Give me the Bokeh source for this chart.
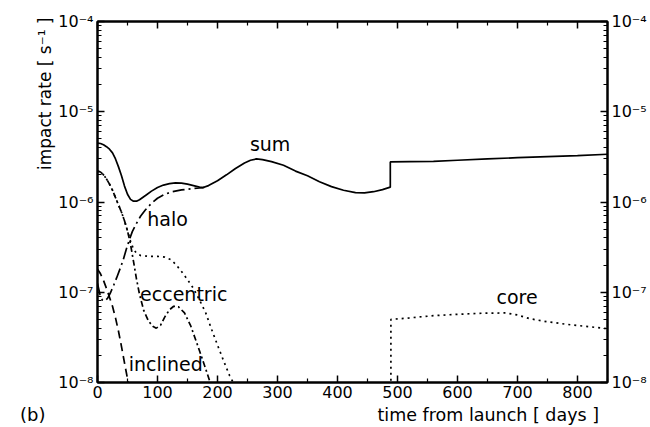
import math
from bokeh.plotting import figure
from bokeh.layouts import column
from bokeh.models import (Range1d, LinearAxis, LogAxis, FixedTicker, CustomJSTickFormatter,
                          Label, Title)
from bokeh.embed import file_html
from bokeh.resources import INLINE

# ---------------- data ----------------
x_ticks = [0, 100, 200, 300, 400, 500, 600, 700, 800]
x_minor = [50, 150, 250, 350, 450, 550, 650, 750, 850]
y_ticks = [1e-8, 1e-7, 1e-6, 1e-5, 1e-4]
y_tick_labels = ["10⁻⁸", "10⁻⁷", "10⁻⁶", "10⁻⁵", "10⁻⁴"]
y_minor = [m * 10.0 ** e for e in range(-8, -4) for m in range(2, 10)]

sum_days = [0, 5, 10, 15, 20, 25, 30, 35, 40, 45, 50, 55, 60, 65, 70, 80, 90, 100, 110, 120,
            130, 140, 150, 160, 170, 175, 185, 200, 215, 230, 245, 255, 265, 275, 290, 310,
            330, 350, 370, 390, 410, 430, 445, 460, 475, 488, 488, 520, 560, 600, 650, 700,
            750, 800, 850]
sum_rate = [4.5e-6, 4.45e-6, 4.3e-6, 4.1e-6, 3.85e-6, 3.5e-6, 3.0e-6, 2.45e-6, 1.95e-6, 1.5e-6,
            1.22e-6, 1.07e-6, 1.02e-6, 1.02e-6, 1.06e-6, 1.18e-6, 1.32e-6, 1.45e-6, 1.54e-6,
            1.6e-6, 1.63e-6, 1.62e-6, 1.58e-6, 1.52e-6, 1.46e-6, 1.44e-6, 1.52e-6, 1.72e-6,
            2.0e-6, 2.35e-6, 2.7e-6, 2.9e-6, 3.0e-6, 2.95e-6, 2.8e-6, 2.55e-6, 2.2e-6, 1.95e-6,
            1.68e-6, 1.48e-6, 1.35e-6, 1.27e-6, 1.26e-6, 1.3e-6, 1.37e-6, 1.46e-6, 2.78e-6,
            2.8e-6, 2.82e-6, 2.9e-6, 3.0e-6, 3.1e-6, 3.18e-6, 3.27e-6, 3.38e-6]

halo_days = [0, 4, 8, 12, 17, 22, 27, 32, 38, 43, 48, 53, 58, 65, 72, 80, 90, 100, 112, 125,
             140, 155, 170, 178]
halo_rate = [1.25e-7, 9.5e-8, 8.2e-8, 8.0e-8, 8.6e-8, 1.0e-7, 1.2e-7, 1.45e-7, 1.85e-7, 2.3e-7,
             3.0e-7, 3.8e-7, 4.7e-7, 5.8e-7, 7.0e-7, 8.2e-7, 9.7e-7, 1.1e-6, 1.22e-6, 1.3e-6,
             1.36e-6, 1.4e-6, 1.43e-6, 1.45e-6]

ecc_days = [0, 5, 10, 15, 20, 25, 30, 35, 40, 45, 50, 55, 60, 65, 70, 77, 85, 92, 98, 105,
            112, 120, 127, 135, 145, 155, 165, 175, 183, 190]
ecc_rate = [2.2e-6, 2.15e-6, 2.0e-6, 1.8e-6, 1.58e-6, 1.35e-6, 1.12e-6, 9.3e-7, 7.7e-7, 6.2e-7,
            4.8e-7, 3.4e-7, 2.2e-7, 1.4e-7, 9.5e-8, 6.3e-8, 4.8e-8, 4.2e-8, 4.0e-8, 4.3e-8,
            5.3e-8, 6.4e-8, 7.0e-8, 6.9e-8, 5.9e-8, 4.3e-8, 2.8e-8, 1.8e-8, 1.25e-8, 9e-9]

incl_days = [0, 5, 10, 15, 20, 25, 30, 35, 40, 45, 50, 53]
incl_rate = [1.8e-7, 1.6e-7, 1.35e-7, 1.1e-7, 8.8e-8, 7e-8, 5.2e-8, 3.7e-8, 2.5e-8, 1.65e-8,
             1.1e-8, 9e-9]

dot_days = [0, 5, 10, 15, 20, 25, 30, 35, 40, 45, 50, 55, 60, 65, 72, 85, 100, 112, 122, 130,
            140, 150, 160, 170, 180, 190, 200, 210, 220, 228]
dot_rate = [2.2e-6, 2.15e-6, 2.0e-6, 1.8e-6, 1.58e-6, 1.35e-6, 1.12e-6, 9.3e-7, 7.7e-7, 6.2e-7,
            4.8e-7, 3.7e-7, 3.0e-7, 2.7e-7, 2.55e-7, 2.5e-7, 2.5e-7, 2.45e-7, 2.3e-7, 2.05e-7,
            1.7e-7, 1.38e-7, 1.1e-7, 8.2e-8, 6.0e-8, 3.9e-8, 2.6e-8, 1.75e-8, 1.2e-8, 9.5e-9]

core_days = [489, 489, 520, 560, 600, 640, 680, 700, 720, 750, 790, 820, 850]
core_rate = [9e-9, 5.0e-8, 5.2e-8, 5.5e-8, 5.7e-8, 5.85e-8, 5.9e-8, 5.6e-8, 5.1e-8, 4.7e-8,
             4.35e-8, 4.15e-8, 3.95e-8]

panel_tag = "(b)"
x_title = "time from launch [ days ]"
y_title = "impact rate [ s⁻¹ ]"

FONT = "DejaVu Sans"
MAIN_H = 403
STRIP_H = 427 - MAIN_H

# ---------------- main figure ----------------
p = figure(width=650, height=MAIN_H, output_backend="svg", toolbar_location=None,
           x_range=Range1d(0, 850), y_range=Range1d(1e-8, 1e-4), y_axis_type="log",
           min_border_left=97, min_border_right=43, min_border_top=21, min_border_bottom=21,
           background_fill_color="white", border_fill_color="white")
p.grid.visible = False
p.outline_line_color = "black"
p.outline_line_width = 2

ytick_fmt = CustomJSTickFormatter(args=dict(tv=y_ticks, tl=y_tick_labels), code="""
let best = 0, bd = 1e9;
for (let i = 0; i < tv.length; i++) {
  const d = Math.abs(Math.log10(tv[i]) - Math.log10(tick));
  if (d < bd) { bd = d; best = i; }
}
return tl[best];
""")
blank_fmt = CustomJSTickFormatter(code="return '';")

def style_axis(ax):
    ax.axis_line_color = "black"
    ax.axis_line_width = 2
    ax.major_tick_line_color = "black"
    ax.minor_tick_line_color = "black"
    ax.major_tick_line_width = 1.5
    ax.minor_tick_line_width = 1.2
    ax.major_tick_in = 7
    ax.major_tick_out = 0
    ax.minor_tick_in = 4
    ax.minor_tick_out = 0
    ax.major_label_text_font = FONT
    ax.major_label_text_color = "black"
    ax.major_label_text_font_size = "16px"

xb = p.xaxis[0]
xb.ticker = FixedTicker(ticks=x_ticks, minor_ticks=x_minor)
style_axis(xb)
xb.major_label_standoff = 3

yl = p.yaxis[0]
yl.ticker = FixedTicker(ticks=y_ticks, minor_ticks=y_minor)
yl.formatter = ytick_fmt
style_axis(yl)
yl.major_label_standoff = 4

xt = LinearAxis(ticker=FixedTicker(ticks=x_ticks, minor_ticks=x_minor), formatter=blank_fmt)
style_axis(xt)
p.add_layout(xt, "above")

yr = LogAxis(ticker=FixedTicker(ticks=y_ticks, minor_ticks=y_minor), formatter=ytick_fmt)
style_axis(yr)
yr.major_label_standoff = 4
p.add_layout(yr, "right")

# y-axis title, aligned toward the top of the left side
p.add_layout(Title(text=y_title, align="right", text_font=FONT,
                   text_font_size="17px", text_font_style="normal", text_color="black",
                   standoff=2, offset=-4), "left")

# ---------------- curves ----------------
LW = 1.7
p.line(sum_days, sum_rate, line_color="black", line_width=LW)
p.line(halo_days, halo_rate, line_color="black", line_width=LW, line_dash="12 4 2 4")
p.line(ecc_days, ecc_rate, line_color="black", line_width=LW, line_dash="6 3 2 3")
p.line(incl_days, incl_rate, line_color="black", line_width=LW, line_dash="8 5")
p.line(dot_days, dot_rate, line_color="black", line_width=LW, line_dash="2 4")
p.line(core_days, core_rate, line_color="black", line_width=LW, line_dash="2 4")

# ---------------- curve labels ----------------
def lab(x, y, t, size="19px", **kw):
    return Label(x=x, y=y, text=t, text_font=FONT, text_font_size=size,
                 text_color="black", **kw)

p.add_layout(lab(254, 4.4e-6, "sum", text_baseline="alphabetic"))
p.add_layout(lab(83, 6.4e-7, "halo", text_baseline="alphabetic"))
p.add_layout(lab(71, 9.5e-8, "eccentric", text_baseline="alphabetic"))
p.add_layout(lab(52, 1.6e-8, "inclined", text_baseline="alphabetic"))
p.add_layout(lab(665, 8.8e-8, "core", text_baseline="alphabetic"))

# ---------------- bottom strip: panel tag and x-axis title ----------------
# strip frame is aligned with the main frame (97..607 px); its x range is in pixels
s = figure(width=650, height=STRIP_H, output_backend="svg", toolbar_location=None,
           x_range=Range1d(97, 607), y_range=Range1d(0, STRIP_H),
           x_axis_location=None,
           min_border_left=97, min_border_right=43, min_border_top=0, min_border_bottom=0,
           background_fill_color="white", border_fill_color="white")
s.grid.visible = False
s.outline_line_color = None

tag_axis = s.yaxis[0]
tag_axis.ticker = FixedTicker(ticks=[STRIP_H - 10], minor_ticks=[])
tag_axis.formatter = CustomJSTickFormatter(args=dict(t=panel_tag), code="return t;")
tag_axis.axis_line_color = None
tag_axis.major_tick_line_color = None
tag_axis.minor_tick_line_color = None
tag_axis.major_tick_out = 0
tag_axis.major_tick_in = 0
tag_axis.major_label_standoff = 52
tag_axis.major_label_text_font = FONT
tag_axis.major_label_text_font_size = "18px"
tag_axis.major_label_text_color = "black"

s.add_layout(lab(377, STRIP_H - 1, x_title, size="17.5px", text_baseline="top"))

layout = column(p, s, spacing=0)
open("out.html", "w").write(file_html(layout, INLINE))
